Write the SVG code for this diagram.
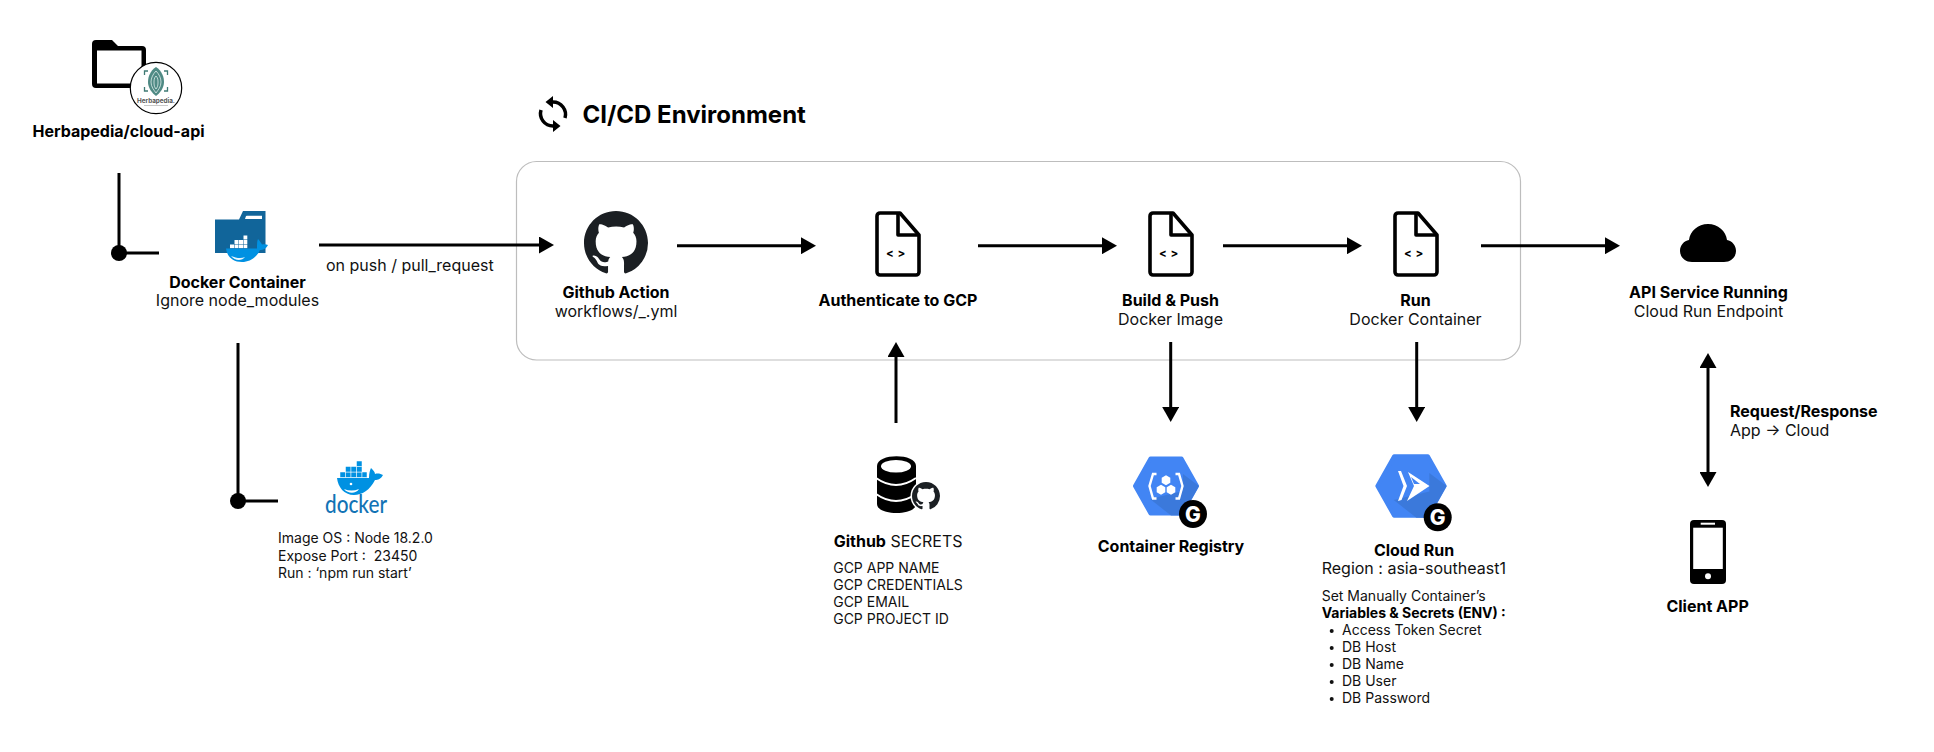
<svg xmlns="http://www.w3.org/2000/svg" xmlns:xlink="http://www.w3.org/1999/xlink" width="1934" height="752" viewBox="0 0 1934 752">
<style>
text{font-family:Inter,"Noto Sans","Liberation Sans",sans-serif;fill:#111}
.t{font-size:16px;font-weight:700;text-anchor:middle;fill:#000}
.s{font-size:16px;font-weight:400;text-anchor:middle}
.n{font-size:14px;font-weight:400;white-space:pre}
.b{font-weight:700;fill:#000}
.c{stroke:#000;stroke-width:3;fill:none}
.file{fill:none;stroke:#000;stroke-width:3.6;stroke-linejoin:round}
.code{font-size:11.5px;font-weight:700;text-anchor:middle;fill:#000;letter-spacing:.5px}
.w{fill:#fff}
.gbadge{font-size:21px;font-weight:800;text-anchor:middle;fill:#fff}
</style>
<defs>
<marker id="ah" markerUnits="userSpaceOnUse" markerWidth="15" markerHeight="17" refX="1" refY="8.5" orient="auto-start-reverse"><path d="M0 0L15 8.5L0 17Z" fill="#000"/></marker>
<path id="gh" d="M8 0C3.58 0 0 3.58 0 8c0 3.54 2.29 6.53 5.47 7.59.4.07.55-.17.55-.38 0-.19-.01-.82-.01-1.49-2.01.37-2.53-.49-2.69-.94-.09-.23-.48-.94-.82-1.13-.28-.15-.68-.52-.01-.53.63-.01 1.08.58 1.23.82.72 1.21 1.87.87 2.33.66.07-.52.28-.87.51-1.07-1.78-.2-3.64-.89-3.64-3.95 0-.87.31-1.59.82-2.15-.08-.2-.36-1.02.08-2.12 0 0 .67-.21 2.2.82.64-.18 1.32-.27 2-.27.68 0 1.36.09 2 .27 1.53-1.04 2.2-.82 2.2-.82.44 1.1.16 1.92.08 2.12.51.56.82 1.27.82 2.15 0 3.07-1.87 3.75-3.65 3.95.29.25.54.73.54 1.48 0 1.07-.01 1.93-.01 2.2 0 .21.15.46.55.38A8.013 8.013 0 0016 8c0-4.42-3.58-8-8-8z" fill="#1b1f23"/>
<g id="file"><path class="file" d="M5 2H25L44 24V61a3 3 0 0 1-3 3H5a3 3 0 0 1-3-3V5a3 3 0 0 1 3-3Z"/><path class="file" d="M23 2V24H44"/><text class="code" x="21" y="45.5">&lt; &gt;</text></g>
<g id="hex"><path d="M-31 0L-15.5-27.5H15.5L31 0L15.5 27.5H-15.5Z" fill="#4285f4" stroke="#4285f4" stroke-width="4" stroke-linejoin="round"/><path d="M-16 13L5 29.5H15.5L17 28.5L33 0L17-12V5Z" fill="#3b78d8" opacity=".9"/></g>
<g id="gb"><circle r="14" fill="#000"/><text class="gbadge" y="7.5">G</text></g>
<polygon id="mh" points="-5,0 -2.5,-4.3 2.5,-4.3 5,0 2.5,4.3 -2.5,4.3" fill="#fff"/>
</defs>

<rect id="cicd-frame" x="516.5" y="161.5" width="1004" height="198.5" rx="20" fill="#fff" stroke="#bdbdbd" stroke-width="1.2"/>

<g id="connectors">
<path class="c" d="M119 173V253H159"/><circle cx="119" cy="253" r="8"/>
<path class="c" d="M238 343V501H278"/><circle cx="238" cy="501" r="8"/>
<path class="c" marker-end="url(#ah)" d="M319 245H540"/>
<path class="c" marker-end="url(#ah)" d="M677 245.7H802"/>
<path class="c" marker-end="url(#ah)" d="M978 245.7H1103"/>
<path class="c" marker-end="url(#ah)" d="M1223 245.7H1348"/>
<path class="c" marker-end="url(#ah)" d="M1481 245.7H1606"/>
<path class="c" marker-end="url(#ah)" d="M896 423V356"/>
<path class="c" marker-end="url(#ah)" d="M1170.7 342V408"/>
<path class="c" marker-end="url(#ah)" d="M1416.7 342V408"/>
<path class="c" marker-start="url(#ah)" marker-end="url(#ah)" d="M1708 367V473"/>
</g>

<g id="repo">
<path d="M96 40H112L118 46H142a4 4 0 0 1 4 4V84a4 4 0 0 1-4 4H96a4 4 0 0 1-4-4V44a4 4 0 0 1 4-4Z" fill="#000"/>
<rect x="97" y="50.5" width="44.5" height="33" fill="#fff"/>
<circle cx="156" cy="88" r="25.7" fill="#fff" stroke="#000" stroke-width="1.2"/>
<path d="M156 67C162 71 164 77 164 82C164 88 160 93 156 96C152 93 148 88 148 82C148 77 150 71 156 67Z" fill="#4f8a84"/>
<path d="M156 71C159 74 161 78 161 82C161 87 158 90 156 93M156 71C153 74 151 78 151 82C151 87 154 90 156 93M156 76C158 78 158 80 158 83C158 86 157 88 156 89M156 76C154 78 154 80 154 83C154 86 155 88 156 89" fill="none" stroke="#dfeeec" stroke-width=".8"/>
<path d="M148 71H144.5V75M164 71H167.500V75M144.500 87V91H148M167.500 87V91H164" fill="none" stroke="#3f7a74" stroke-width="1.300"/>
<text x="156" y="102.500" style="font-size:6.300px;font-weight:700;text-anchor:middle;fill:#555">Herbapedia.</text>
<path d="M144 105.500H168" stroke="#bbb" stroke-width=".8"/>
<text class="t" x="118.500" y="137">Herbapedia/cloud-api</text>
</g>

<g id="docker-container">
<path d="M215 219.500H239L243 211H265.500V253H215Z" fill="#11659a"/>
<path d="M246 216L247 215.700H262V219H245Z" fill="#fff"/>
<path d="M226 248.500H257C257 244 257 241 258 239C260 241 261 243 262 244.500C264 244 266 244 268 245C266 249 263 250 260 250C257 257 250 262 242 262C232 262 227 256 226 248.500Z" fill="#0091e2"/>
<g fill="#fff"><rect x="230" y="244.500" width="4" height="3.600"/><rect x="234.500" y="244.500" width="4" height="3.600"/><rect x="239" y="244.500" width="4" height="3.600"/><rect x="243.500" y="244.500" width="3.800" height="3.600"/><rect x="234.500" y="240" width="4" height="4"/><rect x="239" y="240" width="4" height="4"/><rect x="243.500" y="240" width="3.800" height="4"/><rect x="243.500" y="235.500" width="3.800" height="4"/></g>
<path d="M231 256C236 258 241 259 245 257C242 261 235 261 231 256Z" fill="#e9f5fc"/>
<text class="t" x="237.500" y="287.500">Docker Container</text>
<text class="s" x="237.500" y="306">Ignore node_modules</text>
</g>
<text id="edge-label-push" x="326" y="271" style="font-size:16px">on push / pull_request</text>

<g id="docker-image">
<path d="M337 478H369C369 473 370 470 371 468C373 470 375 472 375 474C378 473 381 474 383 475C381 479 378 480 375 480C370 490 362 495 354 495C344 495 338 487 337 478Z" fill="#0091e2"/>
<g fill="#0091e2" stroke="#fff" stroke-width=".5"><rect x="340" y="472" width="5.500" height="5.500"/><rect x="345.500" y="472" width="5.500" height="5.500"/><rect x="351" y="472" width="5.500" height="5.500"/><rect x="356.500" y="472" width="5.500" height="5.500"/><rect x="362" y="472" width="5" height="5.500"/><rect x="345.500" y="466.500" width="5.500" height="5.500"/><rect x="351" y="466.500" width="5.500" height="5.500"/><rect x="356.500" y="466.500" width="5.500" height="5.500"/><rect x="356.500" y="461" width="5.500" height="5.500"/></g>
<circle cx="351" cy="484" r="1.300" fill="#fff"/>
<path d="M344 489C349 491 354 491 359 489C356 494 348 494 344 489Z" fill="#fff"/>
<text x="325" y="513" textLength="62" lengthAdjust="spacingAndGlyphs" style="font-size:25px;font-family:Lato,Inter,sans-serif;fill:#1273b5;font-weight:500">docker</text>
<text class="n" x="278" y="543">Image OS : Node 18.2.0</text>
<text class="n" x="278" y="561">Expose Port :  23450</text>
<text class="n" x="278" y="578">Run : ‘npm run start’</text>
</g>

<g id="cicd-title">
<path d="M553 102A12.500 12.500 0 0 1 565 118M553 126A12.500 12.500 0 0 1 541 110" fill="none" stroke="#000" stroke-width="3.500"/>
<path d="M553 96V108L545.500 102ZM553 120V132L560.500 126Z" fill="#000"/>
<text x="582.500" y="122.500" style="font-size:24px;font-weight:700;fill:#000">CI/CD Environment</text>
</g>

<g id="github-action">
<use xlink:href="#gh" href="#gh" transform="translate(584 211) scale(4)"/>
<text class="t" x="616" y="298">Github Action</text>
<text class="s" x="616" y="316.700">workflows/_.yml</text>
</g>

<g id="authenticate">
<use xlink:href="#file" href="#file" transform="translate(875 211)"/>
<text class="t" x="898" y="305.700">Authenticate to GCP</text>
</g>

<g id="build-push">
<use xlink:href="#file" href="#file" transform="translate(1148 211)"/>
<text class="t" x="1170.500" y="305.700">Build &amp; Push</text>
<text class="s" x="1170.500" y="324.700">Docker Image</text>
</g>

<g id="run">
<use xlink:href="#file" href="#file" transform="translate(1393 211)"/>
<text class="t" x="1415.500" y="305.700">Run</text>
<text class="s" x="1415.500" y="324.700">Docker Container</text>
</g>

<g id="api-service">
<path d="M1692 262c-7 0-12-5-12-11c0-6 4-10 9-11c1-9 9-16 19-16c10 0 18 7 19 16c5 1 9 5 9 11c0 6-5 11-12 11Z" fill="#000"/>
<text class="t" x="1708.500" y="298">API Service Running</text>
<text class="s" x="1708.500" y="317">Cloud Run Endpoint</text>
</g>

<g id="edge-label-request">
<text x="1730" y="416.700" style="font-size:16px;font-weight:700;fill:#000">Request/Response</text>
<text x="1730" y="435.700" style="font-size:16px">App → Cloud</text>
</g>

<g id="client-app">
<rect x="1690" y="520" width="36" height="64" rx="4" fill="#000"/>
<rect x="1693.200" y="527.700" width="29.600" height="41.300" class="w"/>
<rect x="1700.700" y="522.700" width="14.300" height="2" class="w"/>
<circle cx="1708" cy="576.300" r="3" class="w"/>
<text class="t" x="1707.600" y="612">Client APP</text>
</g>

<g id="github-secrets">
<path d="M877 466c0-13 39-13 39 0V504c0 12-39 12-39 0Z" fill="#000"/>
<ellipse cx="896" cy="466.300" rx="15" ry="6.300" class="w"/>
<path d="M876 478Q896 492 916 478M876 494Q896 508 916 494" fill="none" stroke="#fff" stroke-width="2"/>
<circle cx="926" cy="496" r="15.500" fill="#fff"/>
<use xlink:href="#gh" href="#gh" transform="translate(912 482) scale(1.750)"/>
<text x="833.700" y="547" style="font-size:16px"><tspan class="b">Github</tspan> SECRETS</text>
<text class="n" x="833.200" y="572.700">GCP APP NAME</text>
<text class="n" x="833.200" y="590">GCP CREDENTIALS</text>
<text class="n" x="833.200" y="607">GCP EMAIL</text>
<text class="n" x="833.200" y="624">GCP PROJECT ID</text>
</g>

<g id="container-registry">
<use xlink:href="#hex" href="#hex" transform="translate(1166 486)"/>
<g transform="translate(1166 486)">
<path d="M-9.500-12H-13L-16.500 0L-13 12.500H-9.500M9.500-12H13L16.500 0L13 12.500H9.500" fill="none" stroke="#fff" stroke-width="2.400"/>
<use xlink:href="#mh" href="#mh" transform="translate(0 -5.700) rotate(90)"/>
<use xlink:href="#mh" href="#mh" transform="translate(-5 3.700) rotate(90)"/>
<use xlink:href="#mh" href="#mh" transform="translate(5 3.700) rotate(90)"/>
</g>
<use xlink:href="#gb" href="#gb" transform="translate(1193 514)"/>
<text class="t" x="1171" y="552">Container Registry</text>
</g>

<g id="cloud-run">
<use xlink:href="#hex" href="#hex" transform="translate(1411 486) scale(1.080)"/>
<path d="M1398 471L1401 471L1407 486L1401.500 500L1398 501L1403.500 486Z" fill="#fff"/>
<path d="M1408 472L1429.500 486L1407 501L1414 486Z" fill="#fff"/>
<path d="M1411 477L1420 484L1414 484Z" fill="#4285f4"/>
<use xlink:href="#gb" href="#gb" transform="translate(1437.700 517.300)"/>
<text class="t" x="1414" y="556">Cloud Run</text>
<text class="s" x="1413.800" y="574">Region : asia-southeast1</text>
<text class="n" x="1321.700" y="600.700">Set Manually Container’s</text>
<text class="n b" x="1321.700" y="617.700">Variables &amp; Secrets (ENV) :</text>
<g fill="#111"><circle cx="1331.700" cy="631" r="2"/><circle cx="1331.700" cy="648" r="2"/><circle cx="1331.700" cy="665" r="2"/><circle cx="1331.700" cy="682" r="2"/><circle cx="1331.700" cy="699" r="2"/></g>
<text class="n" x="1342" y="635">Access Token Secret</text>
<text class="n" x="1342" y="652">DB Host</text>
<text class="n" x="1342" y="669">DB Name</text>
<text class="n" x="1342" y="686">DB User</text>
<text class="n" x="1342" y="703">DB Password</text>
</g>
</svg>
